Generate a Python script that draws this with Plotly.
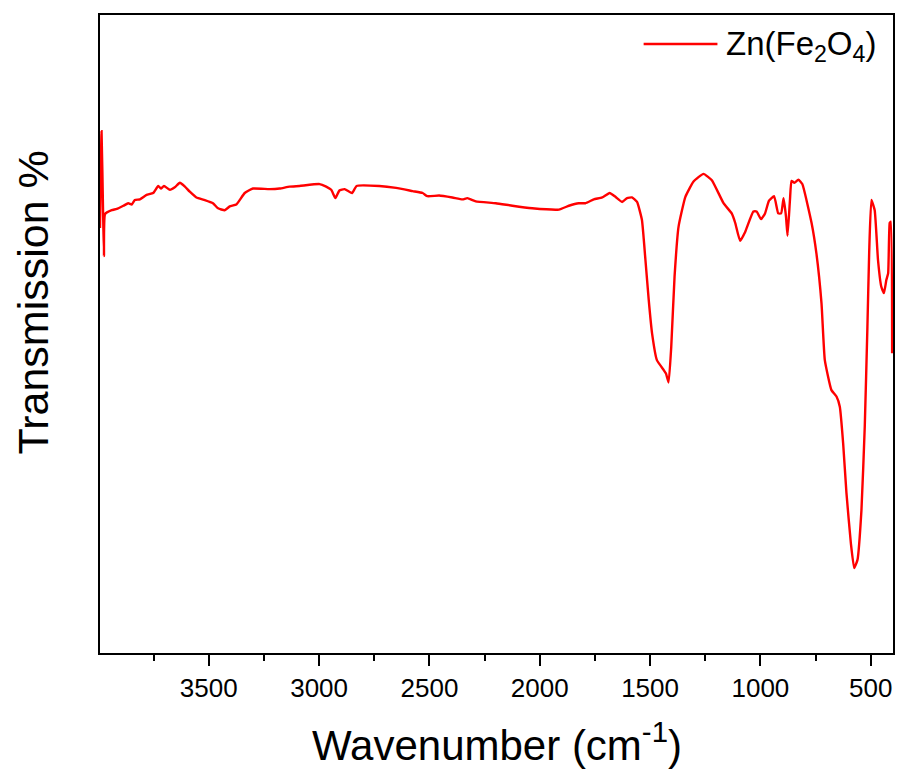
import plotly.graph_objects as go

# FTIR spectrum of Zn(Fe2O4)
wavenumber = [
    3993, 3986, 3979, 3975, 3970, 3940, 3917, 3887, 3865, 3849, 3835, 3812,
    3782, 3752, 3729, 3717, 3703, 3676, 3654, 3631, 3608, 3586, 3556, 3518,
    3481, 3458, 3428, 3405, 3375, 3337, 3300, 3224, 3179, 3134, 3089, 2998,
    2968, 2945, 2926, 2908, 2885, 2863, 2850, 2830, 2727, 2651, 2576, 2531,
    2509, 2456, 2396, 2350, 2328, 2290, 2199, 2124, 2034, 1913, 1868, 1823,
    1793, 1755, 1717, 1683, 1657, 1627, 1604, 1582, 1559, 1537, 1521, 1506,
    1491, 1469, 1439, 1428, 1416, 1404, 1389, 1371, 1340, 1303, 1258, 1220,
    1167, 1130, 1114, 1092, 1069, 1032, 1017, 997, 979, 961, 938, 919, 906,
    895, 884, 877, 866, 859, 846, 828, 810, 768, 746, 723, 708, 678, 655,
    640, 625, 610, 590, 575, 560, 542, 527, 515, 507, 497, 482, 467, 452,
    440, 429, 421, 414, 409, 403,
]
transmission = [
    66.6, 81.8, 69.0, 62.2, 68.8, 69.4, 69.6, 70.1, 70.5, 70.3, 71.0, 71.1,
    71.8, 72.1, 73.2, 72.8, 73.2, 72.6, 73.0, 73.7, 73.1, 72.3, 71.4, 71.0,
    70.5, 69.7, 69.4, 70.0, 70.3, 72.1, 72.8, 72.7, 72.8, 73.1, 73.2, 73.5,
    73.1, 72.6, 71.3, 72.5, 72.7, 72.3, 72.1, 73.2, 73.2, 72.9, 72.4, 72.1,
    71.6, 71.7, 71.4, 71.1, 71.3, 70.8, 70.5, 70.1, 69.7, 69.5, 70.1, 70.5,
    70.5, 71.1, 71.4, 72.1, 71.5, 70.7, 71.3, 71.4, 70.7, 67.9, 61.6, 55.3,
    50.1, 45.9, 44.4, 43.8, 42.4, 48.0, 59.0, 66.8, 71.5, 73.9, 75.1, 74.1,
    70.5, 68.9, 67.4, 64.6, 66.0, 69.2, 69.2, 68.0, 68.9, 70.9, 71.6, 68.9, 68.9,
    71.3, 68.4, 65.4, 71.0, 74.0, 73.7, 74.2, 73.5, 67.4, 62.6, 54.8, 45.9, 41.2, 40.2,
    38.6, 32.9, 25.1, 17.2, 13.3, 14.6, 22.4, 35.5, 51.1, 62.7, 71.0, 69.4, 61.6, 57.4,
    56.4, 58.5, 59.5, 67.4, 67.6, 47.0,
]
series_name = "Zn(Fe<sub>2</sub>O<sub>4</sub>)"
x_tick_values = [3500, 3000, 2500, 2000, 1500, 1000, 500]
x_tick_labels = ["3500", "3000", "2500", "2000", "1500", "1000", "500"]

FONT = "Arial, Liberation Sans, Helvetica, sans-serif"

fig = go.Figure()
fig.add_trace(go.Scatter(
    x=wavenumber, y=transmission, mode="lines",
    line=dict(color="#ff0000", width=2.4, shape="spline", smoothing=0.4),
    name=series_name, showlegend=False,
))

fig.update_layout(
    width=899, height=769,
    margin=dict(l=100, r=4, t=15, b=116),
    paper_bgcolor="white", plot_bgcolor="white",
    font=dict(family=FONT, color="black"),
)
fig.update_xaxes(
    range=[3993, 399],
    tickmode="array", tickvals=x_tick_values, ticktext=x_tick_labels,
    ticks="outside", ticklen=11, tickwidth=2, tickcolor="black",
    tickfont=dict(size=26, family=FONT, color="black"),
    minor=dict(dtick=250, tick0=500, ticks="outside", ticklen=6, tickwidth=2, tickcolor="black"),
    showline=True, linewidth=2, linecolor="black", mirror=True,
    showgrid=False, zeroline=False,
)
fig.update_yaxes(
    range=[0, 100], showticklabels=False, ticks="",
    showline=True, linewidth=2, linecolor="black", mirror=True,
    showgrid=False, zeroline=False,
)

# axis titles
fig.add_annotation(
    text="Wavenumber (cm<sup>-1</sup>)", xref="paper", yref="paper",
    x=0.5, y=-0.14, xanchor="center", yanchor="middle", showarrow=False,
    font=dict(size=42, family=FONT, color="black"),
)
fig.add_annotation(
    text="Transmission %", xref="paper", yref="paper",
    x=-0.084, y=0.55, xanchor="center", yanchor="middle", textangle=-90,
    showarrow=False, font=dict(size=43, family=FONT, color="black"),
)

# legend (line sample + label)
fig.add_shape(type="line", xref="paper", yref="paper",
              x0=(645 - 100) / 795, x1=(719 - 100) / 795,
              y0=(653 - 44) / 638, y1=(653 - 44) / 638,
              line=dict(color="#ff0000", width=2.4))
fig.add_annotation(
    text=series_name, xref="paper", yref="paper",
    x=(726 - 100) / 795, y=(653 - 46) / 638, xanchor="left", yanchor="middle",
    showarrow=False, font=dict(size=33, family=FONT, color="black"),
)

fig.write_html("out.html")
